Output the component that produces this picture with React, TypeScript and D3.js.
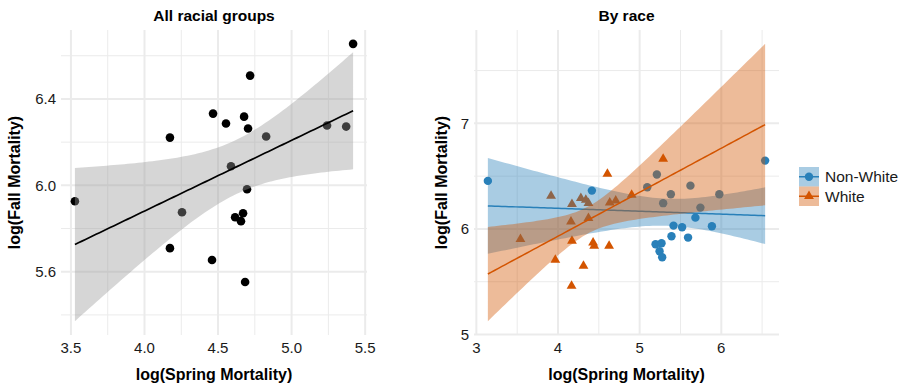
import React from 'react';
import * as d3 from 'd3';

// log spring / fall mortality, all racial groups pooled
const allSpring = [5.418, 4.718, 4.466, 4.554, 4.677, 4.704, 4.827, 5.241, 5.371, 4.173,
  4.588, 4.697, 3.527, 4.255, 4.616, 4.670, 4.656, 4.173, 4.459, 4.684];
const allFall = [6.655, 6.508, 6.332, 6.286, 6.318, 6.263, 6.226, 6.277, 6.272, 6.221,
  6.088, 5.982, 5.926, 5.875, 5.852, 5.871, 5.834, 5.709, 5.654, 5.552];

// by race
const nonWhiteSpring = [3.141, 4.415, 6.537, 5.211, 5.093, 5.622, 5.382, 5.976, 5.288, 5.744,
  5.683, 5.415, 5.520, 5.885, 5.390, 5.593, 5.195, 5.268, 5.244, 5.276];
const nonWhiteFall = [6.455, 6.363, 6.647, 6.515, 6.395, 6.410, 6.329, 6.329, 6.244, 6.202,
  6.107, 6.031, 6.016, 6.026, 5.931, 5.918, 5.855, 5.864, 5.789, 5.732];
const whiteSpring = [4.605, 3.915, 4.280, 4.341, 4.373, 4.171, 4.634, 4.707, 4.902, 4.159,
  4.373, 4.171, 4.430, 4.443, 4.626, 3.967, 4.312, 4.166, 3.540, 5.288];
const whiteFall = [6.521, 6.313, 6.291, 6.275, 6.244, 6.234, 6.249, 6.268, 6.322, 6.069,
  6.101, 5.886, 5.870, 5.839, 5.839, 5.706, 5.649, 5.460, 5.902, 6.664];

const raceNames = ['Non-White', 'White'];
const raceColors = ['#2980B9', '#D35400'];

const xTicksAll = [3.5, 4.0, 4.5, 5.0, 5.5];
const xMinorAll = [3.75, 4.25, 4.75, 5.25];
const yTicksAll = [5.6, 6.0, 6.4];
const yMinorAll = [5.4, 5.8, 6.2, 6.6];
const xTicksRace = [3, 4, 5, 6];
const xMinorRace = [3.5, 4.5, 5.5, 6.5];
const yTicksRace = [5, 6, 7];
const yMinorRace = [5.5, 6.5, 7.5];

const FONT = "'Liberation Sans', Arial, Helvetica, sans-serif";
const GRID = '#EBEBEB';
const top = 30, bottom = 335;

// approx 97.5% t quantile (Cornish-Fisher)
const tq = (v: number) => {
  const z = 1.959964;
  const g1 = (z ** 3 + z) / 4;
  const g2 = (5 * z ** 5 + 16 * z ** 3 + 3 * z) / 96;
  const g3 = (3 * z ** 7 + 19 * z ** 5 + 17 * z ** 3 - 15 * z) / 384;
  return z + g1 / v + g2 / v ** 2 + g3 / v ** 3;
};

type Fit = { x: number; fit: number; lo: number; hi: number };
const lmFit = (xs: number[], ys: number[], from: number, to: number): Fit[] => {
  const n = xs.length;
  const mx = d3.mean(xs)!, my = d3.mean(ys)!;
  let sxx = 0, sxy = 0;
  xs.forEach((x, i) => { sxx += (x - mx) ** 2; sxy += (x - mx) * (ys[i] - my); });
  const b = sxy / sxx, a = my - b * mx;
  const sse = d3.sum(xs, (x, i) => (ys[i] - a - b * x) ** 2);
  const s = Math.sqrt(sse / (n - 2));
  const t = tq(n - 2);
  return d3.range(80).map(i => {
    const x = from + (to - from) * i / 79;
    const fit = a + b * x;
    const se = s * Math.sqrt(1 / n + (x - mx) ** 2 / sxx);
    return { x, fit, lo: fit - t * se, hi: fit + t * se };
  });
};

const expand = (ext: number[]) => {
  const d = (ext[1] - ext[0]) * 0.05;
  return [ext[0] - d, ext[1] + d];
};

const triangle = d3.symbol().type(d3.symbolTriangle).size(42)()!;

function Grid({ x, y, xt, xm, yt, ym }: any) {
  const [x0, x1] = x.range();
  return (
    <g>
      {ym.map((v: number) => <line key={'ym' + v} x1={x0} x2={x1} y1={y(v)} y2={y(v)} stroke={GRID} strokeWidth={1} />)}
      {xm.map((v: number) => <line key={'xm' + v} x1={x(v)} x2={x(v)} y1={top} y2={bottom} stroke={GRID} strokeWidth={1} />)}
      {yt.map((v: number) => <line key={'yt' + v} x1={x0} x2={x1} y1={y(v)} y2={y(v)} stroke={GRID} strokeWidth={2} />)}
      {xt.map((v: number) => <line key={'xt' + v} x1={x(v)} x2={x(v)} y1={top} y2={bottom} stroke={GRID} strokeWidth={2} />)}
    </g>
  );
}

function Axes({ x, y, xt, yt, fx, fy, title, yTitleX }: any) {
  const [x0, x1] = x.range();
  const cx = (x0 + x1) / 2;
  return (
    <g fontFamily={FONT}>
      <text x={cx} y={21} textAnchor="middle" fontSize={15.5} fontWeight="bold">{title}</text>
      {xt.map((v: number) => (
        <text key={'xl' + v} x={x(v)} y={353} textAnchor="middle" fontSize={15} fill="#1a1a1a">{fx(v)}</text>
      ))}
      {yt.map((v: number) => (
        <text key={'yl' + v} x={x0 - 5} y={y(v) + 5.3} textAnchor="end" fontSize={15} fill="#1a1a1a">{fy(v)}</text>
      ))}
      <text x={cx} y={380} textAnchor="middle" fontSize={16} fontWeight="bold">log(Spring Mortality)</text>
      <text transform={`translate(${yTitleX},${(top + bottom) / 2}) rotate(-90)`} textAnchor="middle" fontSize={16} fontWeight="bold">log(Fall Mortality)</text>
    </g>
  );
}

export default function App() {
  // left panel
  const fitAll = lmFit(allSpring, allFall, d3.min(allSpring)!, d3.max(allSpring)!);
  const xA = d3.scaleLinear().domain(expand(d3.extent(allSpring) as number[])).range([61, 367]);
  const yA = d3.scaleLinear()
    .domain(expand(d3.extent([...allFall, ...fitAll.map(d => d.lo), ...fitAll.map(d => d.hi)]) as number[]))
    .range([bottom, top]);
  const areaA = d3.area<Fit>().x(d => xA(d.x)).y0(d => yA(d.lo)).y1(d => yA(d.hi));
  const lineA = d3.line<Fit>().x(d => xA(d.x)).y(d => yA(d.fit));

  // right panel
  const raceSpring = [nonWhiteSpring, whiteSpring];
  const raceFall = [nonWhiteFall, whiteFall];
  const allR = [...nonWhiteSpring, ...whiteSpring];
  const rMin = d3.min(allR)!, rMax = d3.max(allR)!;
  const fitsR = raceSpring.map((xs, i) => lmFit(xs, raceFall[i], rMin, rMax));
  const xR = d3.scaleLinear().domain(expand([rMin, rMax])).range([474, 779]);
  const yR = d3.scaleLinear()
    .domain(expand(d3.extent([...nonWhiteFall, ...whiteFall, ...fitsR.flatMap(f => f.flatMap(d => [d.lo, d.hi]))]) as number[]))
    .range([bottom, top]);
  const areaR = d3.area<Fit>().x(d => xR(d.x)).y0(d => yR(d.lo)).y1(d => yR(d.hi));
  const lineR = d3.line<Fit>().x(d => xR(d.x)).y(d => yR(d.fit));

  return (
    <svg width={904} height={388} style={{ position: 'absolute', left: 0, top: 0, display: 'block' }}>
      <rect width={904} height={388} fill="#fff" />

      {/* All racial groups */}
      <Grid x={xA} y={yA} xt={xTicksAll} xm={xMinorAll} yt={yTicksAll} ym={yMinorAll} />
      {allSpring.map((v, i) => <circle key={i} cx={xA(v)} cy={yA(allFall[i])} r={4.3} fill="#000" />)}
      <path d={areaA(fitAll)!} fill="#999999" fillOpacity={0.4} />
      <path d={lineA(fitAll)!} fill="none" stroke="#000" strokeWidth={1.7} />
      <Axes x={xA} y={yA} xt={xTicksAll} yt={yTicksAll} fx={d3.format('.1f')} fy={d3.format('.1f')}
        title="All racial groups" yTitleX={20} />

      {/* By race */}
      <Grid x={xR} y={yR} xt={xTicksRace} xm={xMinorRace} yt={yTicksRace} ym={yMinorRace} />
      {nonWhiteSpring.map((v, i) => <circle key={'n' + i} cx={xR(v)} cy={yR(nonWhiteFall[i])} r={4.2} fill={raceColors[0]} />)}
      {whiteSpring.map((v, i) => (
        <path key={'w' + i} d={triangle} transform={`translate(${xR(v)},${yR(whiteFall[i])})`} fill={raceColors[1]} />
      ))}
      {fitsR.map((f, i) => (
        <g key={'f' + i}>
          <path d={areaR(f)!} fill={raceColors[i]} fillOpacity={0.4} />
          <path d={lineR(f)!} fill="none" stroke={raceColors[i]} strokeWidth={1.5} />
        </g>
      ))}
      <Axes x={xR} y={yR} xt={xTicksRace} yt={yTicksRace} fx={d3.format('d')} fy={d3.format('d')}
        title="By race" yTitleX={447} />

      {/* legend */}
      <g fontFamily={FONT}>
        {raceNames.map((name, i) => {
          const ky = 167 + i * 19.5;
          return (
            <g key={name}>
              <rect x={799} y={ky} width={20} height={19.5} fill={raceColors[i]} fillOpacity={0.4} />
              {i === 0
                ? <circle cx={809} cy={ky + 9.75} r={4.2} fill={raceColors[i]} />
                : <path d={triangle} transform={`translate(809,${ky + 9.75})`} fill={raceColors[i]} />}
              <line x1={799} x2={819} y1={ky + 9.75} y2={ky + 9.75} stroke={raceColors[i]} strokeWidth={1.5} />
              <text x={825} y={ky + 15.2} fontSize={15.5} fill="#1a1a1a">{name}</text>
            </g>
          );
        })}
      </g>
    </svg>
  );
}
